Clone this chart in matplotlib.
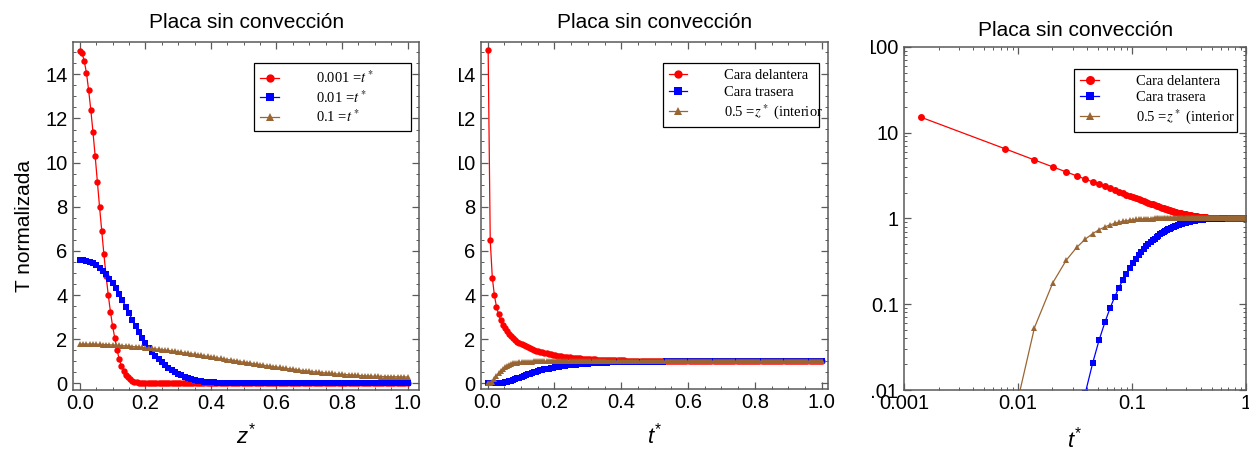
import numpy as np
import matplotlib
matplotlib.use("Agg")
import matplotlib.pyplot as plt
from matplotlib.ticker import MultipleLocator, FixedLocator, FixedFormatter, NullFormatter, LogLocator
from matplotlib.transforms import Bbox, TransformedBbox
from matplotlib.font_manager import FontProperties

# ---------------------------------------------------------------
# Data
# ---------------------------------------------------------------

# Panel 1: profiles T(z*) for three times
z_fine = np.linspace(0, 1, 151)
prof_t0001 = [
    15.07, 14.97, 14.60, 14.07, 13.29, 12.39, 11.38, 10.29, 9.13, 8.00,
    6.90, 5.84, 4.87, 4.00, 3.24, 2.58, 2.04, 1.52, 1.10, 0.80,
    0.58, 0.40, 0.28, 0.19, 0.12, 0.08, 0.05, 0.03, 0.02, 0.01,
    0.01, 0, 0, 0, 0, 0, 0, 0, 0, 0,
    0, 0, 0, 0, 0, 0, 0, 0, 0, 0,
    0, 0, 0, 0, 0, 0, 0, 0, 0, 0,
    0, 0, 0, 0, 0, 0, 0, 0, 0, 0,
    0, 0, 0, 0, 0, 0, 0, 0, 0, 0,
    0, 0, 0, 0, 0, 0, 0, 0, 0, 0,
    0, 0, 0, 0, 0, 0, 0, 0, 0, 0,
    0, 0, 0, 0, 0, 0, 0, 0, 0, 0,
    0, 0, 0, 0, 0, 0, 0, 0, 0, 0,
    0, 0, 0, 0, 0, 0, 0, 0, 0, 0,
    0, 0, 0, 0, 0, 0, 0, 0, 0, 0,
    0, 0, 0, 0, 0, 0, 0, 0, 0, 0,
    0,
]

z_grid = np.linspace(0, 1, 101)
prof_t001 = [
    5.57, 5.57, 5.55, 5.51, 5.44, 5.35, 5.24, 5.10, 4.95, 4.75,
    4.53, 4.30, 4.04, 3.76, 3.47, 3.18, 2.88, 2.59, 2.31, 2.05,
    1.81, 1.60, 1.42, 1.25, 1.09, 0.95, 0.82, 0.70, 0.60, 0.51,
    0.43, 0.36, 0.30, 0.25, 0.20, 0.16, 0.13, 0.10, 0.08, 0.06,
    0.05, 0.04, 0.03, 0.02, 0.01, 0.01, 0, 0, 0, 0,
    0, 0, 0, 0, 0, 0, 0, 0, 0, 0,
    0, 0, 0, 0, 0, 0, 0, 0, 0, 0,
    0, 0, 0, 0, 0, 0, 0, 0, 0, 0,
    0, 0, 0, 0, 0, 0, 0, 0, 0, 0,
    0, 0, 0, 0, 0, 0, 0, 0, 0, 0,
    0,
]
prof_t01 = [
    1.78, 1.78, 1.78, 1.78, 1.78, 1.77, 1.77, 1.76, 1.76, 1.75,
    1.74, 1.73, 1.72, 1.71, 1.70, 1.69, 1.67, 1.66, 1.65, 1.63,
    1.61, 1.60, 1.58, 1.56, 1.55, 1.53, 1.51, 1.49, 1.47, 1.45,
    1.43, 1.40, 1.38, 1.36, 1.34, 1.32, 1.29, 1.27, 1.25, 1.22,
    1.20, 1.18, 1.15, 1.13, 1.10, 1.08, 1.06, 1.03, 1.01, 0.98,
    0.96, 0.94, 0.92, 0.89, 0.87, 0.85, 0.82, 0.80, 0.78, 0.76,
    0.74, 0.72, 0.70, 0.68, 0.66, 0.64, 0.62, 0.60, 0.58, 0.57,
    0.55, 0.53, 0.52, 0.50, 0.49, 0.47, 0.46, 0.45, 0.43, 0.42,
    0.41, 0.40, 0.39, 0.38, 0.37, 0.36, 0.35, 0.34, 0.34, 0.33,
    0.32, 0.32, 0.31, 0.31, 0.30, 0.30, 0.30, 0.30, 0.29, 0.29,
    0.29,
]

# Panels 2 and 3: histories T(t*) at front face, back face and z* = 0.5
t_star = 0.0014 + np.arange(161) / 160
front = [
    15.08, 6.472, 4.785, 3.980, 3.472, 3.125, 2.861, 2.657, 2.489, 2.351,
    2.232, 2.131, 2.041, 1.963, 1.892, 1.830, 1.772, 1.720, 1.672, 1.628,
    1.588, 1.551, 1.516, 1.484, 1.454, 1.426, 1.400, 1.375, 1.353, 1.331,
    1.311, 1.292, 1.275, 1.258, 1.243, 1.228, 1.214, 1.201, 1.189, 1.178,
    1.167, 1.157, 1.148, 1.139, 1.131, 1.123, 1.116, 1.109, 1.102, 1.096,
    1.090, 1.085, 1.080, 1.075, 1.071, 1.066, 1.062, 1.059, 1.055, 1.052,
    1.049, 1.046, 1.043, 1.040, 1.038, 1.036, 1.034, 1.032, 1.030, 1.028,
    1.026, 1.025, 1.023, 1.022, 1.021, 1.019, 1.018, 1.017, 1.016, 1.015,
    1.014, 1.013, 1.013, 1.012, 1.011, 1.010, 1.010, 1.009, 1.009, 1.008,
    1.008, 1.007, 1.007, 1.006, 1.006, 1.006, 1.005, 1.005, 1.005, 1.004,
    1.004, 1.004, 1.004, 1.003, 1.003, 1.003, 1.003, 1.003, 1.003, 1.002,
    1.002, 1.002, 1.002, 1.002, 1.002, 1.002, 1.002, 1.002, 1.001, 1.001,
    1.001, 1.001, 1.001, 1.001, 1.001, 1.001, 1.001, 1.001, 1.001, 1.001,
    1.001, 1.001, 1.001, 1.001, 1.001, 1.000, 1.000, 1.000, 1.000, 1.000,
    1.000, 1.000, 1.000, 1.000, 1.000, 1.000, 1.000, 1.000, 1.000, 1.000,
    1.000, 1.000, 1.000, 1.000, 1.000, 1.000, 1.000, 1.000, 1.000, 1.000,
    1.000,
]
back = [
    0.0, 0.0, 0.0, 0.00003, 0.00054, 0.0029, 0.0093, 0.0208, 0.0384, 0.0613,
    0.0893, 0.1205, 0.155, 0.190, 0.227, 0.264, 0.301, 0.337, 0.372, 0.406,
    0.439, 0.471, 0.501, 0.529, 0.556, 0.582, 0.606, 0.629, 0.651, 0.672,
    0.691, 0.710, 0.727, 0.743, 0.758, 0.773, 0.786, 0.799, 0.811, 0.822,
    0.833, 0.843, 0.852, 0.861, 0.869, 0.877, 0.884, 0.891, 0.898, 0.904,
    0.910, 0.915, 0.920, 0.925, 0.929, 0.934, 0.938, 0.941, 0.945, 0.948,
    0.951, 0.954, 0.957, 0.960, 0.962, 0.964, 0.966, 0.968, 0.970, 0.972,
    0.974, 0.975, 0.977, 0.978, 0.979, 0.981, 0.982, 0.983, 0.984, 0.985,
    0.986, 0.987, 0.987, 0.988, 0.989, 0.990, 0.990, 0.991, 0.991, 0.992,
    0.992, 0.993, 0.993, 0.994, 0.994, 0.994, 0.995, 0.995, 0.995, 0.996,
    0.996, 0.996, 0.996, 0.997, 0.997, 0.997, 0.997, 0.997, 0.997, 0.998,
    0.998, 0.998, 0.998, 0.998, 0.998, 0.998, 0.998, 0.998, 0.999, 0.999,
    0.999, 0.999, 0.999, 0.999, 0.999, 0.999, 0.999, 0.999, 0.999, 0.999,
    0.999, 0.999, 0.999, 0.999, 0.999, 1.000, 1.000, 1.000, 1.000, 1.000,
    1.000, 1.000, 1.000, 1.000, 1.000, 1.000, 1.000, 1.000, 1.000, 1.000,
    1.000, 1.000, 1.000, 1.000, 1.000, 1.000, 1.000, 1.000, 1.000, 1.000,
    1.000,
]
middle = [
    0.0, 0.0017, 0.0534, 0.178, 0.325, 0.459, 0.574, 0.665, 0.738, 0.794,
    0.840, 0.874, 0.902, 0.923, 0.940, 0.953, 0.963, 0.971, 0.978, 0.983,
    0.986, 0.989, 0.992, 0.994, 0.995, 0.996, 0.997, 0.998, 0.998, 0.999,
    0.999, 0.999, 0.999, 1.000, 1.000, 1.000, 1.000, 1.000, 1.000, 1.000,
    1.000, 1.000, 1.000, 1.000, 1.000, 1.000, 1.000, 1.000, 1.000, 1.000,
    1.000, 1.000, 1.000, 1.000, 1.000, 1.000, 1.000, 1.000, 1.000, 1.000,
    1.000, 1.000, 1.000, 1.000, 1.000, 1.000, 1.000, 1.000, 1.000, 1.000,
    1.000, 1.000, 1.000, 1.000, 1.000, 1.000, 1.000, 1.000, 1.000, 1.000,
    1.000, 1.000, 1.000, 1.000, 1.000, 1.000, 1.000, 1.000, 1.000, 1.000,
    1.000, 1.000, 1.000, 1.000, 1.000, 1.000, 1.000, 1.000, 1.000, 1.000,
    1.000, 1.000, 1.000, 1.000, 1.000, 1.000, 1.000, 1.000, 1.000, 1.000,
    1.000, 1.000, 1.000, 1.000, 1.000, 1.000, 1.000, 1.000, 1.000, 1.000,
    1.000, 1.000, 1.000, 1.000, 1.000, 1.000, 1.000, 1.000, 1.000, 1.000,
    1.000, 1.000, 1.000, 1.000, 1.000, 1.000, 1.000, 1.000, 1.000, 1.000,
    1.000, 1.000, 1.000, 1.000, 1.000, 1.000, 1.000, 1.000, 1.000, 1.000,
    1.000, 1.000, 1.000, 1.000, 1.000, 1.000, 1.000, 1.000, 1.000, 1.000,
    1.000,
]

labels_profiles = ['0.001 =$t^*$', '0.01 =$t^*$', '0.1 =$t^*$']
labels_history = ['Cara delantera', 'Cara trasera', '0.5 =$z^*$ (interior']
title = 'Placa sin convección'

RED, BLUE, BROWN = '#ff0000', '#0000ff', '#996633'
FRAME = '#5a5a5a'

# ---------------------------------------------------------------
# Figure
# ---------------------------------------------------------------
plt.rcParams['font.family'] = 'Liberation Sans'
plt.rcParams['mathtext.fontset'] = 'custom'
plt.rcParams['mathtext.rm'] = 'Liberation Sans'
plt.rcParams['mathtext.it'] = 'Liberation Sans:italic'

W, H = 1249, 451
fig = plt.figure(figsize=(W / 100, H / 100), dpi=100)


def px_axes(left, top, right, bottom):
    return fig.add_axes([left / W, 1 - bottom / H, (right - left) / W, (bottom - top) / H])


def style(ax, title_pad=10):
    for s in ax.spines.values():
        s.set_color(FRAME)
        s.set_linewidth(1.1)
    ax.tick_params(which='both', direction='in', top=True, right=True,
                   color=FRAME, labelsize=14.5, labelcolor='black')
    ax.tick_params(which='major', length=5, width=0.9)
    ax.tick_params(which='minor', length=2.5, width=0.7)
    ax.tick_params(axis='x', which='both', pad=3)
    ax.tick_params(axis='y', which='both', pad=4)
    ax.set_title(title, fontsize=15, pad=title_pad)


def series(ax, x, y, color, marker, ms):
    ax.plot(x, y, color=color, lw=0.9, marker=marker, ms=ms,
            mfc=color, mec=color, mew=0)


def legend(ax, labels, x0, y0, w, h):
    leg = ax.legend(labels, loc='upper left', bbox_to_anchor=(x0, y0, w, h),
                    mode='expand', borderaxespad=0, frameon=True, fancybox=False,
                    prop=FontProperties(family='Liberation Serif', size=10.5,
                                        math_fontfamily='stix'),
                    handlelength=1.3, handletextpad=2.5, borderpad=0.4,
                    labelspacing=0.22, markerscale=1.3)
    fr = leg.get_frame()
    fr.set_edgecolor('black')
    fr.set_linewidth(0.9)
    fr.set_alpha(1)


def clip_yticklabels(ax, x_px):
    # the reference panels were cropped, cutting the left part of some labels
    box = TransformedBbox(Bbox([[x_px / W, 0], [1, 1]]), fig.transFigure)
    for lab in ax.get_yticklabels():
        lab.set_clip_box(box)
        lab.set_clip_on(True)


# ---- panel 1 ----
ax1 = px_axes(73, 42.3, 419.3, 390)
series(ax1, z_fine, prof_t0001, RED, 'o', 4.6)
series(ax1, z_grid, prof_t001, BLUE, 's', 4.2)
series(ax1, z_grid, prof_t01, BROWN, '^', 4.3)
ax1.set_xlim(-0.021, 1.036)
ax1.set_ylim(-0.3, 15.45)
ax1.xaxis.set_major_locator(MultipleLocator(0.2))
ax1.xaxis.set_minor_locator(MultipleLocator(0.05))
ax1.yaxis.set_major_locator(MultipleLocator(2))
ax1.yaxis.set_minor_locator(MultipleLocator(0.5))
ax1.xaxis.set_major_formatter(lambda v, p: f'{v:.1f}')
style(ax1)
ax1.set_xlabel('$z^{*}$', fontsize=16)
ax1.xaxis.set_label_coords(0.5, -0.095)
ax1.set_ylabel('T normalizada', fontsize=15)
ax1.yaxis.set_label_coords(-0.113, 0.473)
legend(ax1, labels_profiles, 0.5235, 0.7786, 0.4525, 0.161)

# ---- panel 2 ----
ax2 = px_axes(481, 42.3, 828.3, 389.3)
series(ax2, t_star, front, RED, 'o', 4.6)
series(ax2, t_star, back, BLUE, 's', 4.0)
series(ax2, t_star, middle, BROWN, '^', 4.2)
ax2.set_xlim(-0.020, 1.020)
ax2.set_ylim(-0.27, 15.45)
ax2.xaxis.set_major_locator(MultipleLocator(0.2))
ax2.xaxis.set_minor_locator(MultipleLocator(0.05))
ax2.yaxis.set_major_locator(MultipleLocator(2))
ax2.yaxis.set_minor_locator(MultipleLocator(0.5))
ax2.xaxis.set_major_formatter(lambda v, p: f'{v:.1f}')
style(ax2)
ax2.set_xlabel('$t^{*}$', fontsize=16)
ax2.xaxis.set_label_coords(0.5, -0.097)
legend(ax2, labels_history, 0.5232, 0.7781, 0.450, 0.161)
clip_yticklabels(ax2, 458.5)

# ---- panel 3 ----
ax3 = px_axes(904.3, 46.7, 1246, 390)
series(ax3, t_star, front, RED, 'o', 5.0)
series(ax3, t_star, back, BLUE, 's', 3.9)
series(ax3, t_star, middle, BROWN, '^', 4.0)
ax3.set_xscale('log')
ax3.set_yscale('log')
ax3.set_xlim(0.001, 1)
ax3.set_ylim(0.01, 100)
ax3.xaxis.set_major_locator(FixedLocator([0.001, 0.01, 0.1, 1]))
ax3.xaxis.set_major_formatter(FixedFormatter(['0.001', '0.01', '0.1', '1']))
ax3.yaxis.set_major_locator(FixedLocator([0.01, 0.1, 1, 10, 100]))
ax3.yaxis.set_major_formatter(FixedFormatter(['0.01', '0.1', '1', '10', '100']))
for axis in (ax3.xaxis, ax3.yaxis):
    axis.set_minor_locator(LogLocator(base=10, subs=np.arange(2, 10), numticks=20))
    axis.set_minor_formatter(NullFormatter())
style(ax3, title_pad=8)
ax3.set_xlabel('$t^{*}$', fontsize=16)
ax3.xaxis.set_label_coords(0.5, -0.108)
legend(ax3, labels_history, 0.4975, 0.767, 0.477, 0.169)
clip_yticklabels(ax3, 871)

fig.savefig('out.png', dpi=100)
